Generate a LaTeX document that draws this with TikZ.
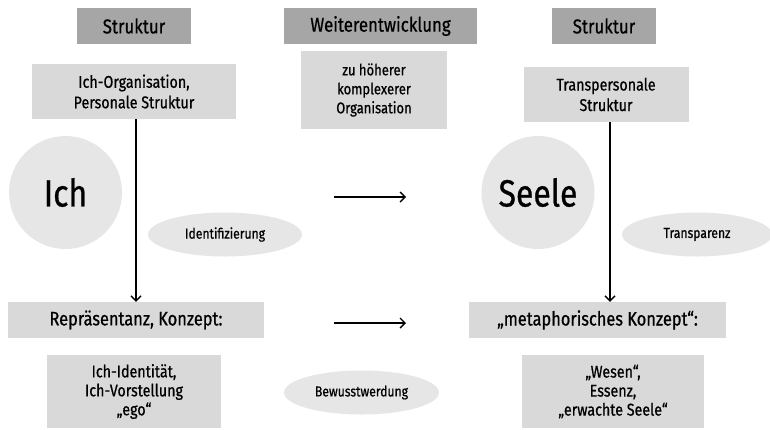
\documentclass[tikz,border=0pt]{standalone}
\usepackage{fontspec}
\setmainfont{Fira Sans}[FakeStretch=0.84, FakeBold=0.7]
\usetikzlibrary{shapes.geometric, arrows.meta}
\definecolor{headgray}{HTML}{A6A6A6}
\definecolor{boxgray}{HTML}{D9D9D9}
\definecolor{ovalgray}{HTML}{E6E6E6}
\begin{document}
\begin{tikzpicture}[x=10pt, y=-10pt]
            \tikzstyle{every node}=[inner sep=0pt, text=black, align=center]
            \tikzstyle{header}=[fill=headgray, minimum height=36pt, font=\fontsize{20}{22}\selectfont]
            \tikzstyle{box}=[fill=boxgray, font=\fontsize{17}{20.5}\selectfont]
            \tikzstyle{circ}=[circle, fill=ovalgray, minimum size=113pt, font=\fontsize{38}{40}\selectfont]
            \tikzstyle{oval}=[ellipse, fill=ovalgray, minimum height=44pt, font=\fontsize{14.5}{16}\selectfont]
            \tikzstyle{arrow}=[-{Straight Barb[length=5pt, width=10pt]}, black, line width=1.4pt]

            \useasboundingbox (0,0) rectangle (77,42.9);

            % Kopfzeile
            \node[header, minimum width=114pt] (struk1) at (13.4,2.6) {Struktur};
            \node[header, minimum width=193pt] (weiter) at (38.05,2.6) {Weiterentwicklung};
            \node[header, minimum width=104pt] (struk2) at (60.4,2.6) {Struktur};

            \node[box, minimum width=204pt, minimum height=55pt] (org) at (13.4,9.15) {Ich-Organisation,\\Personale Struktur};
            \node[box, minimum width=146pt, minimum height=78pt, font=\fontsize{15.5}{19}\selectfont] (hoeher) at (37.4,9.0) {zu höherer\\komplexerer\\Organisation};
            \node[box, minimum width=165pt, minimum height=55pt] (trans) at (60.6,9.45) {Transpersonale\\Struktur};

            % Mitte
            \node[circ] (ich) at (6.55,19.25) {Ich};
            \node[circ] (seele) at (53.8,19.25) {Seele};
            \node[oval, minimum width=154pt] (ident) at (22.5,23.45) {Identifizierung};
            \node[oval, minimum width=150pt] (transp) at (69.7,23.45) {Transparenz};

            % unten
            \node[box, minimum width=256pt, minimum height=36pt, font=\fontsize{19.5}{22}\selectfont] (rep) at (13.6,32.0) {Repräsentanz, Konzept:};
            \node[box, minimum width=257pt, minimum height=36pt, font=\fontsize{19.5}{22}\selectfont] (meta) at (59.75,32.0) {„metaphorisches Konzept“:};
            \node[box, minimum width=174pt, minimum height=73pt, font=\fontsize{17}{19}\selectfont] (ident2) at (13.4,39.15) {Ich-Identität,\\Ich-Vorstellung\\„ego“};
            \node[box, minimum width=182pt, minimum height=73pt, font=\fontsize{17}{19}\selectfont] (wesen) at (61.3,39.15) {„Wesen“,\\Essenz,\\„erwachte Seele“};
            \node[oval, minimum width=155pt] (bewusst) at (36.15,39.25) {Bewusstwerdung};

            \coordinate (p1) at (33.4,19.7);
            \coordinate (q1) at (40.6,19.7);
            \coordinate (p2) at (33.4,32.3);
            \coordinate (q2) at (40.6,32.3);

            \draw[arrow] (rep.north |- org.south) -- (rep.north);
            \draw[arrow] ([xshift=4pt]trans.south) -- ([xshift=4pt]trans.south |- meta.north);
            \draw[arrow] (p1) -- (q1);
            \draw[arrow] (p2) -- (q2);
        \end{tikzpicture}
\end{document}
